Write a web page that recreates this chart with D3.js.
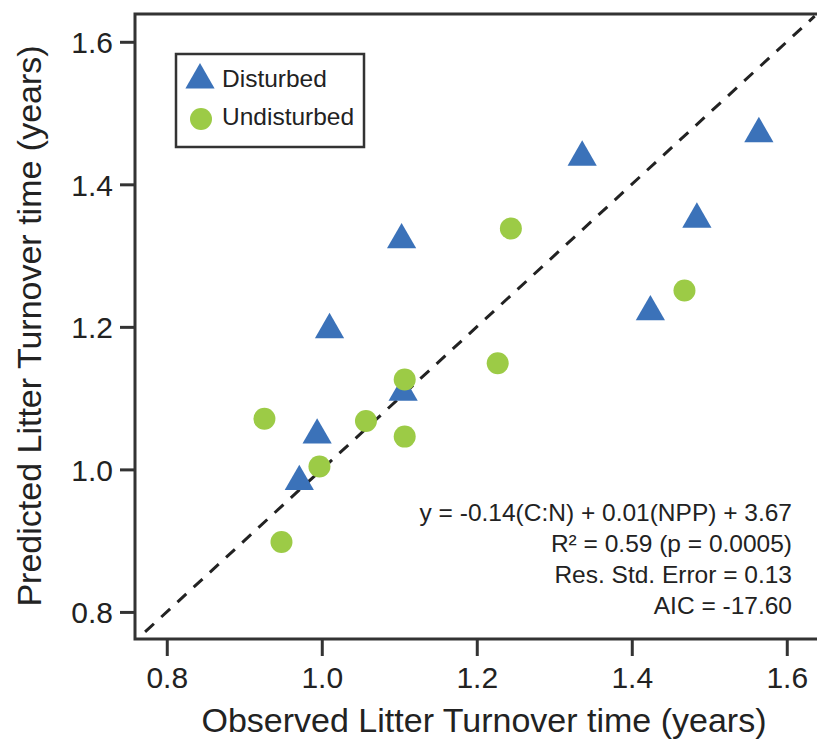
<!DOCTYPE html>
<html>
<head>
<meta charset="utf-8">
<script src="https://cdn.jsdelivr.net/npm/d3@7"></script>
<style>
  html, body { margin: 0; padding: 0; background: #fff; }
  svg { display: block; font-family: "Liberation Sans", Arial, Helvetica, sans-serif; }
</style>
</head>
<body>
<svg id="chart" width="817" height="740"></svg>
<script>
// Observed vs predicted litter turnover time (years)
const disturbedObserved  = [1.564, 1.336, 1.484, 1.103, 1.010, 1.424, 1.105, 0.994, 0.971];
const disturbedPredicted = [1.471, 1.438, 1.351, 1.322, 1.196, 1.221, 1.108, 1.048, 0.983];

const undisturbedObserved  = [1.244, 1.468, 1.227, 1.107, 1.057, 0.926, 1.107, 0.997, 0.948];
const undisturbedPredicted = [1.338, 1.251, 1.149, 1.126, 1.068, 1.071, 1.046, 1.004, 0.898];

const xTicks = [0.8, 1.0, 1.2, 1.4, 1.6];
const yTicks = [0.8, 1.0, 1.2, 1.4, 1.6];

const seriesNames = ["Disturbed", "Undisturbed"];
const modelLines = [
  "y = -0.14(C:N) + 0.01(NPP) + 3.67",
  "R\u00B2 = 0.59 (p = 0.0005)",
  "Res. Std. Error = 0.13",
  "AIC = -17.60"
];

const svg = d3.select("#chart");
const plot = { left: 135, top: 14, right: 817, bottom: 639 };

const x = d3.scaleLinear().domain([0.759, 1.639]).range([plot.left, plot.right]);
const y = d3.scaleLinear().domain([0.762, 1.639]).range([plot.bottom, plot.top]);

const blue = "#3b72b9";
const green = "#9ccb46";
const frameColor = "#333";
const textColor = "#222";

// 1:1 reference line
const lo = 0.772, hi = 1.636;
svg.append("line")
  .attr("x1", x(lo)).attr("y1", y(lo))
  .attr("x2", x(hi)).attr("y2", y(hi))
  .attr("stroke", "#222").attr("stroke-width", 3)
  .attr("stroke-dasharray", "12,10");

// Points
const tri = d3.symbol().type(d3.symbolTriangle).size(370);
const disturbed = disturbedObserved.map((v, i) => ({ x: v, y: disturbedPredicted[i] }));
const undisturbed = undisturbedObserved.map((v, i) => ({ x: v, y: undisturbedPredicted[i] }));

svg.append("g").selectAll("path").data(disturbed).join("path")
  .attr("d", tri)
  .attr("transform", d => `translate(${x(d.x)},${y(d.y)})`)
  .attr("fill", blue);

svg.append("g").selectAll("circle").data(undisturbed).join("circle")
  .attr("cx", d => x(d.x)).attr("cy", d => y(d.y)).attr("r", 11)
  .attr("fill", green);

// Frame
svg.append("rect")
  .attr("x", plot.left).attr("y", plot.top)
  .attr("width", plot.right - plot.left + 5).attr("height", plot.bottom - plot.top)
  .attr("fill", "none").attr("stroke", frameColor).attr("stroke-width", 3);

// Axes
const fmt = d3.format(".1f");
const xAxis = svg.append("g")
  .attr("transform", `translate(0,${plot.bottom})`)
  .call(d3.axisBottom(x).tickValues(xTicks).tickFormat(fmt).tickSize(17).tickSizeOuter(0).tickPadding(10));
const yAxis = svg.append("g")
  .attr("transform", `translate(${plot.left},0)`)
  .call(d3.axisLeft(y).tickValues(yTicks).tickFormat(fmt).tickSize(15).tickSizeOuter(0).tickPadding(7));

[xAxis, yAxis].forEach(g => {
  g.select(".domain").remove();
  g.selectAll(".tick line").attr("stroke", frameColor).attr("stroke-width", 3);
  g.selectAll(".tick text")
    .attr("fill", textColor)
    .style("font-size", "30px")
    .style("font-family", "'Liberation Sans', Arial, sans-serif");
});
xAxis.selectAll(".tick text").attr("y", 49).attr("dy", null);
yAxis.selectAll(".tick text").attr("dy", "0.36em");

// Axis titles
svg.append("text")
  .attr("x", 484).attr("y", 732)
  .attr("text-anchor", "middle")
  .attr("fill", textColor).style("font-size", "34px")
  .text("Observed Litter Turnover time (years)");

svg.append("text")
  .attr("transform", `translate(41,326) rotate(-90)`)
  .attr("text-anchor", "middle")
  .attr("fill", textColor).style("font-size", "34px")
  .text("Predicted Litter Turnover time (years)");

// Legend
const legend = svg.append("g");
legend.append("rect")
  .attr("x", 176).attr("y", 54).attr("width", 188).attr("height", 93)
  .attr("fill", "#fff").attr("stroke", frameColor).attr("stroke-width", 2.5);
legend.append("path")
  .attr("d", tri)
  .attr("transform", "translate(200,80)")
  .attr("fill", blue);
legend.append("circle")
  .attr("cx", 201).attr("cy", 119).attr("r", 11)
  .attr("fill", green);
legend.selectAll("text.lab").data(seriesNames).join("text")
  .attr("class", "lab")
  .attr("x", 222).attr("y", (d, i) => 87 + i * 38)
  .attr("fill", textColor).style("font-size", "24.5px")
  .text(d => d);

// Model summary
svg.append("g").selectAll("text").data(modelLines).join("text")
  .attr("x", 792).attr("y", (d, i) => 521 + i * 31)
  .attr("text-anchor", "end")
  .attr("fill", textColor).style("font-size", "24.5px")
  .text(d => d);
</script>
</body>
</html>
